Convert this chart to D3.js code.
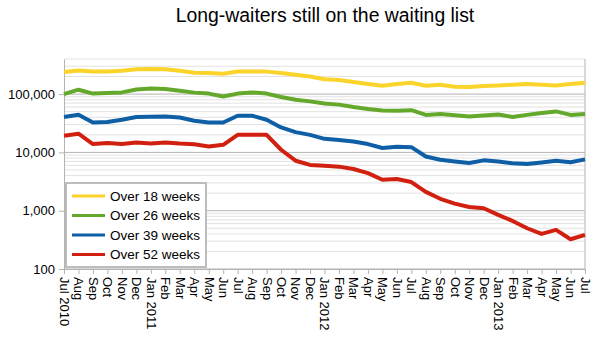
<!DOCTYPE html>
<html>
<head>
<meta charset="utf-8">
<script src="https://cdn.jsdelivr.net/npm/d3@7"></script>
<style>
  body { margin: 0; background: #fff; }
  svg { font-family: "Liberation Sans", Arial, sans-serif; }
</style>
</head>
<body>
<script>
    // month labels, Jul 2010 .. Jul 2013
    var months = ["Jul 2010","Aug","Sep","Oct","Nov","Dec","Jan 2011","Feb","Mar","Apr","May","Jun",
                  "Jul","Aug","Sep","Oct","Nov","Dec","Jan 2012","Feb","Mar","Apr","May","Jun",
                  "Jul","Aug","Sep","Oct","Nov","Dec","Jan 2013","Feb","Mar","Apr","May","Jun","Jul"];

    var over18 = [240000,255000,245000,245000,252000,266000,270000,266000,252000,233000,231000,224000,
                  245000,245000,243000,231000,215000,201000,180000,175000,161000,149000,139000,149000,
                  157000,139000,145000,134000,132000,138000,141000,145000,149000,145000,141000,149000,157000];
    var over26 = [100000,119000,102000,104000,107000,120000,125000,122000,114000,106000,102000,91000,
                  102000,107000,102000,89000,80000,75000,69000,66000,60000,55500,52500,52000,
                  53000,44000,45500,43400,41400,43000,44800,40400,44000,47300,50500,44000,45500];
    var over39 = [40400,44300,32600,33200,36300,40400,40900,41400,39800,34900,32600,32600,
                  42600,42600,36300,26800,22300,20000,17100,16300,15400,13900,11900,12500,
                  12300,8500,7500,7000,6600,7300,7000,6500,6300,6700,7200,6800,7600];
    var over52 = [19300,20900,13900,14500,13900,14800,14200,14800,14200,13800,12600,13500,
                  20000,20000,20000,11100,7200,6100,5900,5700,5200,4400,3400,3500,
                  3100,2100,1600,1320,1160,1100,847,668,500,400,468,324,384];

    var seriesNames = ["Over 18 weeks","Over 26 weeks","Over 39 weeks","Over 52 weeks"];
    var seriesColors = ["#fbd42b","#64a82c","#0f5fa6","#d1200f"];
    var yTicks = [100, 1000, 10000, 100000];

    var margin = {top: 59, right: 12, bottom: 73, left: 64};
    var width = 597 - margin.left - margin.right;
    var height = 342 - margin.top - margin.bottom;

    var svg = d3.select("body").append("svg")
                .attr("width", 597)
                .attr("height", 342);

    svg.append("text")
       .attr("x", 325)
       .attr("y", 22)
       .attr("text-anchor", "middle")
       .style("font-size", "19.4px")
       .text("Long-waiters still on the waiting list");

    var g = svg.append("g")
               .attr("transform", "translate(" + margin.left + "," + margin.top + ")");

    var xScale = d3.scalePoint().domain(d3.range(months.length)).range([0, width]);
    var yScale = d3.scaleLog().domain([100, 400000]).range([height, 0]);

    // minor grid lines
    var minor = [];
    [100, 1000, 10000, 100000].forEach(function(p) {
        for (var k = 2; k <= 9; k++) {
            if (p * k <= 400000) minor.push(p * k);
        }
    });
    g.selectAll(".minor")
     .data(minor)
     .enter().append("line")
     .attr("class", "minor")
     .attr("x1", 0).attr("x2", width)
     .attr("y1", function(d) { return yScale(d); })
     .attr("y2", function(d) { return yScale(d); })
     .attr("stroke", "#e2e2e2")
     .attr("stroke-width", 1);

    g.selectAll(".major")
     .data(yTicks)
     .enter().append("line")
     .attr("class", "major")
     .attr("x1", 0).attr("x2", width)
     .attr("y1", function(d) { return yScale(d); })
     .attr("y2", function(d) { return yScale(d); })
     .attr("stroke", "#b3b3b3")
     .attr("stroke-width", 1);

    // right border
    g.append("line")
     .attr("x1", width).attr("x2", width)
     .attr("y1", 0).attr("y2", height)
     .attr("stroke", "#b3b3b3");

    // axes
    var yAxis = g.append("g")
                 .attr("class", "y axis")
                 .call(d3.axisLeft(yScale).tickValues(yTicks).tickFormat(d3.format(",")).tickSize(5).tickSizeOuter(0));
    yAxis.selectAll("text").style("font-size", "13px").attr("fill", "#000").attr("x", -9);

    var xAxis = g.append("g")
                 .attr("class", "x axis")
                 .attr("transform", "translate(0," + height + ")")
                 .call(d3.axisBottom(xScale).tickFormat(function(i) { return months[i]; }).tickSize(5).tickSizeOuter(0));
    xAxis.selectAll("text")
         .attr("y", 0)
         .attr("x", 8)
         .attr("dy", ".35em")
         .attr("transform", "rotate(90)")
         .style("text-anchor", "start")
         .style("font-size", "13px")
         .attr("fill", "#000");

    svg.selectAll(".axis path, .axis line").attr("stroke", "#b3b3b3");

    // the lines
    var allSeries = [over18, over26, over39, over52];
    var line = d3.line()
                 .x(function(d, i) { return xScale(i); })
                 .y(function(d) { return yScale(d); });

    g.selectAll(".series")
     .data(allSeries)
     .enter().append("path")
     .attr("class", "series")
     .attr("d", line)
     .attr("fill", "none")
     .attr("stroke", function(d, i) { return seriesColors[i]; })
     .attr("stroke-width", 4)
     .attr("stroke-linejoin", "round");

    // legend
    var legend = svg.append("g").attr("transform", "translate(66,183)");
    legend.append("rect")
          .attr("width", 140).attr("height", 84)
          .attr("fill", "#fff")
          .attr("stroke", "#bdbdbd")
          .attr("stroke-width", 2);

    var item = legend.selectAll(".item")
                     .data(seriesNames)
                     .enter().append("g")
                     .attr("class", "item")
                     .attr("transform", function(d, i) { return "translate(0," + (13 + i * 19.5) + ")"; });
    item.append("line")
        .attr("x1", 6).attr("x2", 39)
        .attr("stroke", function(d, i) { return seriesColors[i]; })
        .attr("stroke-width", 3);
    item.append("text")
        .attr("x", 44)
        .attr("dy", "0.35em")
        .style("font-size", "13.5px")
        .text(function(d) { return d; });
</script>
</body>
</html>
